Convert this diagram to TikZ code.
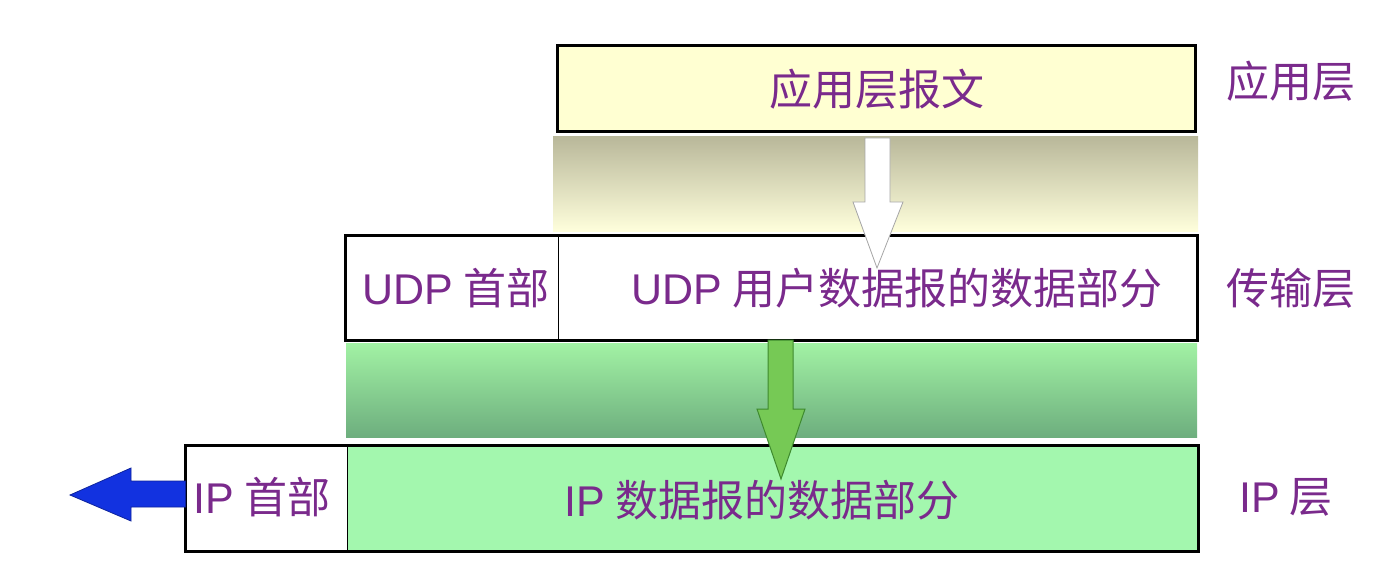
\documentclass[tikz,border=0pt]{standalone}
\usepackage{fontspec}
\newfontfamily\cjk{Noto Sans CJK SC}
\newfontfamily\lat{Liberation Sans}
\definecolor{txtpurple}{HTML}{7A2A8C}
\definecolor{appfill}{HTML}{FFFFD2}
\definecolor{ybandtop}{HTML}{B9B89A}
\definecolor{ybandbot}{HTML}{FFFFDC}
\definecolor{gbandtop}{HTML}{A2F2A4}
\definecolor{gbandbot}{HTML}{6DAE7E}
\definecolor{ipfill}{HTML}{A3F7AE}
\definecolor{garrow}{HTML}{76C955}
\definecolor{garrowline}{HTML}{3E8A2E}
\definecolor{barrow}{HTML}{1232E0}
\begin{document}
\begin{tikzpicture}[x=1pt,y=-1pt,
  frame/.style={draw=black,line width=3pt,inner sep=0pt},
  part/.style={inner sep=0pt,draw=black,line width=0.6pt},
  lbl/.style={text=txtpurple,font=\cjk\fontsize{43}{46}\selectfont,inner sep=0pt}]
\useasboundingbox[fill=white] (0,0) rectangle (1395,572);
% shaded bands
\fill[top color=ybandtop,bottom color=ybandbot] (553,137) rectangle (1198,232);
\fill[top color=gbandtop,bottom color=gbandbot] (346,343) rectangle (1197,437);
% application layer box
\node[frame,fill=appfill,minimum width=638pt,minimum height=86pt] (app) at (876,89) {};
\node[lbl] (apptxt) at (877,89) {应用层报文};
% UDP box
\node[part,fill=white,minimum width=212pt,minimum height=104pt] (udph) at (452,288) {};
\node[part,fill=white,minimum width=639pt,minimum height=104pt] (udpd) at (877.5,288) {};
\draw[line width=3pt] (udph.north west) rectangle (udpd.south east);
\node[lbl] (udphtxt) at (456,288) {{\lat UDP} 首部};
\node[lbl] (udpdtxt) at (897,288) {{\lat UDP} 用户数据报的数据部分};
% IP box
\node[part,fill=white,minimum width=161pt,minimum height=105pt] (iph) at (266.5,498.5) {};
\node[part,fill=ipfill,minimum width=851pt,minimum height=105pt] (ipd) at (772.5,498.5) {};
\draw[line width=3pt] (iph.north west) rectangle (ipd.south east);
\node[lbl] (iphtxt) at (262,497) {{\lat IP} 首部};
\node[lbl] (ipdtxt) at (762,500) {{\lat IP} 数据报的数据部分};
% layer labels
\node[lbl] (l1) at (1291,81) {应用层};
\node[lbl] (l2) at (1291,288) {传输层};
\node[lbl] (l3) at (1286,497) {{\lat IP} 层};
% white arrow
\draw[draw=gray!70,line width=0.8pt,fill=white]
  (865,138) -- (890,138) -- (890,202) -- (903,202) -- (877,268) -- (853,202) -- (865,202) -- cycle;
% green arrow
\draw[draw=garrowline,line width=1pt,fill=garrow]
  (768,340) -- (793,340) -- (793,409) -- (805,409) -- (781,479) -- (757,409) -- (768,409) -- cycle;
% blue arrow
\draw[draw=barrow!70!black,line width=0.8pt,fill=barrow]
  (iph.west |- 0,481) -- (131,481) -- (131,468) -- (70,495) -- (131,521) -- (131,507) -- (iph.west |- 0,507) -- cycle;
\end{tikzpicture}
\end{document}
